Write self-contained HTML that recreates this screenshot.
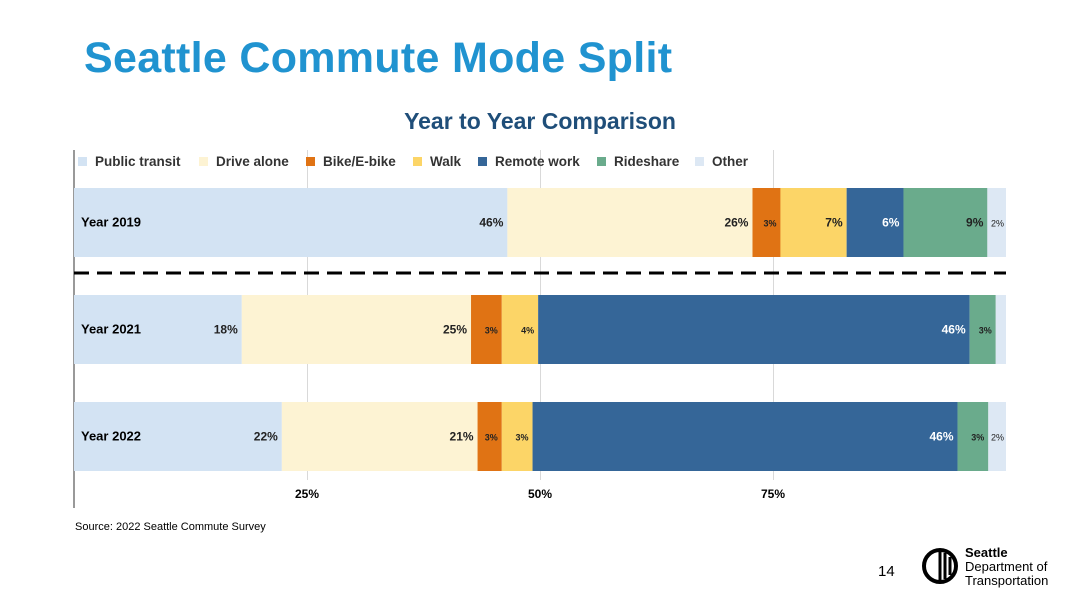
<!DOCTYPE html>
<html><head><meta charset="utf-8"><style>
body{margin:0;width:1080px;height:608px;background:#fff;font-family:"Liberation Sans",sans-serif;overflow:hidden;position:relative}
.t{position:absolute}
</style></head><body>
<div class="t" style="left:84px;top:34px;font-size:43px;font-weight:bold;color:#2093d0;font-family:'Liberation Sans',sans-serif;letter-spacing:0.3px">Seattle Commute Mode Split</div>
<div class="t" style="left:0;width:1080px;text-align:center;top:108px;font-size:23px;font-weight:bold;color:#1f4e79">Year to Year Comparison</div>
<svg id="c" class="t" style="left:0;top:0" width="1080" height="608"></svg>
<div class="t" style="left:75px;top:521px;font-size:11px;color:#000">Source: 2022 Seattle Commute Survey</div>
<div class="t" style="left:878px;top:563px;font-size:15px">14</div>
<svg class="t" style="left:921px;top:547px" width="38" height="38" viewBox="0 0 38 38">
<circle cx="19" cy="19" r="16" fill="none" stroke="#000" stroke-width="4"/>
<path d="M19 4v30M24 6v26M29 10v18" stroke="#000" stroke-width="3"/>
</svg>
<div class="t" style="left:965px;top:546px;font-size:13px;line-height:14px;color:#000"><b>Seattle</b><br>Department of<br>Transportation</div>
<script>
const categories=["Year 2019","Year 2021","Year 2022"];
const modes=["Public transit","Drive alone","Bike/E-bike","Walk","Remote work","Rideshare","Other"];
const colors=["#d3e3f3","#fdf3d3","#e07314","#fcd567","#356698","#6aab8c","#dde8f4"];
const transit=[46.5,18.0,22.3];
const driveAlone=[26.3,24.6,21.0];
const bike=[3.0,3.3,2.6];
const walk=[7.1,3.9,3.3];
const remote=[6.1,46.3,45.6];
const rideshare=[9.0,2.8,3.3];
const other=[2.0,1.1,1.9];
const labels=[["46%","26%","3%","7%","6%","9%","2%"],["18%","25%","3%","4%","46%","3%",""],["22%","21%","3%","3%","46%","3%","2%"]];
const ticks=[25,50,75];
const series=[transit,driveAlone,bike,walk,remote,rideshare,other];
const svg=document.getElementById('c');const NS='http://www.w3.org/2000/svg';
const x0=74,x1=1006,x=v=>x0+(x1-x0)*v/100;
const barTop=[188,295,402],bh=69;
function mk(t,a){const e=document.createElementNS(NS,t);for(const k in a)e.setAttribute(k,a[k]);svg.appendChild(e);return e;}
ticks.forEach(t=>{const g=mk('line',{x1:x(t)+0.5,x2:x(t)+0.5,y1:150,y2:480,stroke:'#d9d9d9','stroke-width':1});


const l=mk('text',{x:x(t),y:498,'text-anchor':'middle','font-size':12,'font-weight':'bold','font-family':'Liberation Sans'});l.textContent=t+'%';

});
const ax=mk('line',{x1:x0,x2:x0,y1:150,y2:508,stroke:'#333','stroke-width':1});


categories.forEach((c,i)=>{let acc=0;
series.forEach((s,j)=>{const v=s[i];const r=mk('rect',{x:x(acc),y:barTop[i],width:x(acc+v)-x(acc),height:bh,fill:colors[j]});


acc+=v;const lb=labels[i][j];if(lb){const small=v<5;const tx=mk('text',{x:x(acc)-(j==6?2:4),y:barTop[i]+bh/2+4,'text-anchor':'end','font-size':small?9:12,'font-weight':j==6?'normal':'bold',fill:j==4?'#fff':'#222','font-family':'Liberation Sans'});tx.textContent=lb;

}});
const cl=mk('text',{x:81,y:barTop[i]+bh/2+4,'font-size':13,'font-weight':'bold','font-family':'Liberation Sans'});cl.textContent=c;

});
const d=mk('line',{x1:x0,x2:x1,y1:273,y2:273,stroke:'#000','stroke-width':3,'stroke-dasharray':'15 8'});


const lx=[78,199,306,413,478,597,695];
modes.forEach((m,j)=>{const r=mk('rect',{x:lx[j],y:157,width:9,height:9,fill:colors[j]});


const t=mk('text',{x:lx[j]+17,y:166,'font-size':13.5,'font-weight':'bold','font-family':'Liberation Sans',fill:'#333'});t.textContent=m;

});
</script>
</body></html>
